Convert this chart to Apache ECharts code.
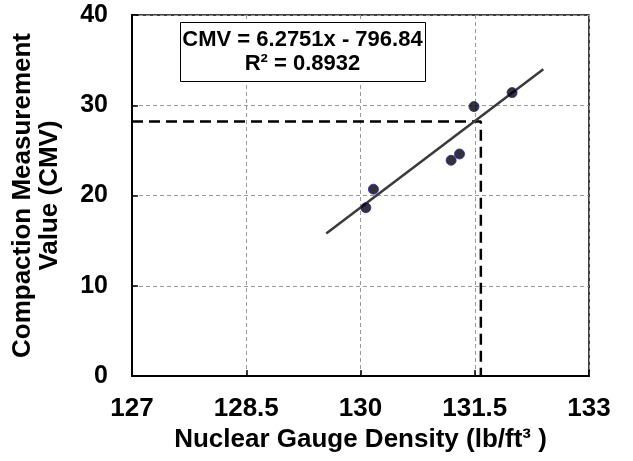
<!DOCTYPE html>
<html><head><meta charset="utf-8">
<script src="https://cdn.jsdelivr.net/npm/echarts@6/dist/echarts.min.js"></script>
<style>html,body{margin:0;padding:0;background:#fff}#c{width:633px;height:461px}</style>
</head><body><div id="c"></div>
<script>
// Data
const densityX = [130.07, 130.17, 131.19, 131.30, 131.49, 131.99];
const cmvY = [18.65, 20.7, 23.9, 24.6, 29.85, 31.4];
const trendX = [129.55, 132.4];
const trendY = [15.8, 34.0];
const refX = [127, 131.58, 131.58];
const refY = [28.2, 28.2, 0];
const xTicks = [127, 128.5, 130, 131.5, 133];
const yTicks = [0, 10, 20, 30, 40];
const eqLine1 = 'CMV = 6.2751x - 796.84';
const eqLine2 = 'R² = 0.8932';
const xTitle = 'Nuclear Gauge Density (lb/ft³ )';
const yTitle = 'Compaction Measurement\nValue (CMV)';

const FONT = '"Liberation Sans", Arial, sans-serif';
const chart = echarts.init(document.getElementById('c'), null, {renderer: 'canvas'});
const pts = densityX.map((x, i) => [x, cmvY[i]]);
const trend = trendX.map((x, i) => [x, trendY[i]]);
const ref = refX.map((x, i) => [x, refY[i]]);

chart.setOption({
  animation: false,
  backgroundColor: '#fff',
  grid: {left: 132, right: 44, top: 15, bottom: 85, show: true, borderColor: '#000', borderWidth: 1.5, backgroundColor: 'transparent'},
  xAxis: {
    type: 'value', min: xTicks[0], max: xTicks[xTicks.length - 1],
    name: xTitle, nameLocation: 'middle', nameGap: 50,
    nameTextStyle: {fontFamily: FONT, fontWeight: 'bold', fontSize: 26, color: '#000'},
    axisLine: {show: true, onZero: false, lineStyle: {color: '#000', width: 2}},
    axisTick: {show: true, inside: true, length: 6, lineStyle: {color: '#000', width: 1.5}, customValues: xTicks},
    axisLabel: {customValues: xTicks, margin: 20, fontFamily: FONT, fontWeight: 'bold', fontSize: 26, color: '#000'},
    splitLine: {show: true, lineStyle: {color: '#999', type: [4, 3], width: 1}}
  },
  yAxis: {
    type: 'value', min: yTicks[0], max: yTicks[yTicks.length - 1], interval: 10,
    name: yTitle, nameLocation: 'middle', nameGap: 69, nameRotate: 90,
    nameTextStyle: {fontFamily: FONT, fontWeight: 'bold', fontSize: 26, color: '#000', lineHeight: 27},
    axisLine: {show: true, onZero: false, lineStyle: {color: '#000', width: 2}},
    axisTick: {show: true, inside: true, length: 6, lineStyle: {color: '#000', width: 1.5}},
    axisLabel: {margin: 24, fontFamily: FONT, fontWeight: 'bold', fontSize: 25, color: '#000'},
    splitLine: {show: true, lineStyle: {color: '#999', type: [4, 3], width: 1}}
  },
  series: [
    {type: 'line', data: ref, symbol: 'none', lineStyle: {color: '#000', width: 2.5, type: [11, 6]}, z: 2},
    {type: 'line', data: trend, symbol: 'none', lineStyle: {color: '#3a3a3a', width: 2.5}, z: 3},
    {type: 'scatter', data: pts, symbol: 'circle', symbolSize: 10, itemStyle: {color: '#000', borderColor: '#2020c0', borderWidth: 1}, z: 4}
  ],
  graphic: [
    {type: 'rect', left: 180, top: 22, shape: {width: 245, height: 59}, style: {fill: '#fff', stroke: '#000', lineWidth: 1}, z: 10},
    {type: 'text', x: 302.5, y: 40, style: {text: eqLine1, fontFamily: FONT, fontWeight: 'bold', fontSize: 22, fill: '#000', textAlign: 'center', textVerticalAlign: 'middle'}, z: 11},
    {type: 'text', x: 302.5, y: 64, style: {text: eqLine2, fontFamily: FONT, fontWeight: 'bold', fontSize: 22, fill: '#000', textAlign: 'center', textVerticalAlign: 'middle'}, z: 11}
  ]
});
</script></body></html>
